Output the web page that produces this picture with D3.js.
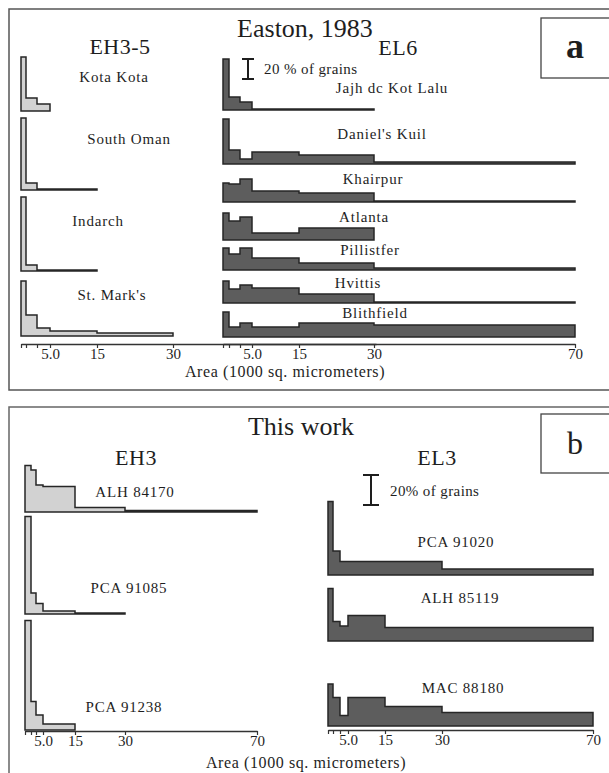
<!DOCTYPE html>
<html>
<head>
<meta charset="utf-8">
<script src="https://cdn.jsdelivr.net/npm/d3@7"></script>
<style>
  body { margin: 0; background: #fff; }
  svg { display: block; }
  text { font-family: "Liberation Serif", "Times New Roman", serif; fill: #1e1e1e; }
</style>
</head>
<body>
<script>
// bin edges (1000 sq. micrometers) and axis labels
var binEdges = [0, 1, 2.5, 5, 15, 30, 70];
var tickLabels = ["", "", "", "5.0", "15", "30", "70"];

// panel a, Easton 1983 -- % of grains per bin
var eh35Names = ["Kota Kota", "South Oman", "Indarch", "St. Mark's"];
var eh35Values = [[54, 13, 7], [72, 7, 1, 1], [74, 6, 1, 1], [55, 21, 8, 5, 3]];

var el6Names = ["Jajh dc Kot Lalu", "Daniel's Kuil", "Khairpur", "Atlanta", "Pillistfer", "Hvittis", "Blithfield"];
var el6Values = [[51, 13, 8, 1, 1], [45, 14, 5, 12, 9, 2], [19, 18, 23, 11, 9, 1], [27, 19, 23, 7, 12],
                 [22, 16, 22, 12, 7, 2], [22, 14, 18, 15, 9, 1], [25, 10, 14, 10, 14, 12]];

// panel b, this work
var eh3Names = ["ALH 84170", "PCA 91085", "PCA 91238"];
var eh3Values = [[31, 28, 18, 17, 3, 1], [65, 14, 7, 2, 0.7], [73, 19, 10, 4]];

var el3Names = ["PCA 91020", "ALH 85119", "MAC 88180"];
var el3Values = [[49, 16, 9, 9, 9, 4], [35, 13, 10, 17, 9, 9], [28, 19, 7, 19, 13, 9]];

var W = 609, H = 773;
var svg = d3.select("body").append("svg").attr("width", W).attr("height", H);

// frames
svg.append("rect").attr("x", 9).attr("y", 9).attr("width", 620).attr("height", 381)
   .attr("fill", "none").attr("stroke", "#555").attr("stroke-width", 1.5);
svg.append("rect").attr("x", 9).attr("y", 407).attr("width", 620).attr("height", 400)
   .attr("fill", "none").attr("stroke", "#666").attr("stroke-width", 1.5);

function panelLetter(y, h, letter, size, weight) {
	svg.append("rect").attr("x", 541).attr("y", y).attr("width", 80).attr("height", h)
	   .attr("fill", "#fff").attr("stroke", "#444").attr("stroke-width", 1.3);
	svg.append("text").attr("x", 575).attr("y", y + h * 0.67).attr("text-anchor", "middle")
	   .attr("font-size", size).attr("font-weight", weight).text(letter);
}
panelLetter(18, 60, "a", 36, "bold");
panelLetter(414, 59, "b", 32, "normal");

function label(x, y, size, str, anchor, spacing) {
	svg.append("text").attr("x", x).attr("y", y).attr("font-size", size)
	   .attr("letter-spacing", spacing || 0)
	   .attr("text-anchor", anchor || "middle").text(str);
}

// titles
label(305, 37, 26, "Easton, 1983");
label(120, 54, 22, "EH3-5", "middle", 0.5);
label(398, 55, 22, "EL6", "middle", 0.5);
label(301, 435, 26, "This work");
label(136, 465, 22, "EH3", "middle", 0.5);
label(437, 465, 22, "EL3", "middle", 0.5);

function drawHist(x, y, base, vals, fill) {
	var pts = [[x(binEdges[0]), base]];
	vals.forEach(function (v, i) {
		pts.push([x(binEdges[i]), base - y(v)]);
		pts.push([x(binEdges[i + 1]), base - y(v)]);
	});
	pts.push([x(binEdges[vals.length]), base]);
	svg.append("path")
	   .attr("d", d3.line()(pts) + "Z")
	   .attr("fill", fill)
	   .attr("stroke", "#262626")
	   .attr("stroke-width", 1.5)
	   .attr("stroke-linejoin", "miter");
}

function drawAxis(x, yPos, nEdges) {
	var ax = d3.axisBottom(x)
		.tickValues(binEdges.slice(0, nEdges))
		.tickFormat(function (d, i) { return tickLabels[i]; })
		.tickSize(4).tickSizeOuter(0);
	var g = svg.append("g").attr("transform", "translate(0," + yPos + ")").call(ax);
	g.select(".domain").attr("stroke", "#333").attr("stroke-width", 1.5);
	g.selectAll(".tick line").attr("stroke", "#333").attr("stroke-width", 1.2);
	g.selectAll(".tick text").attr("font-family", "Liberation Serif, serif")
	 .attr("font-size", 15).attr("fill", "#1e1e1e").attr("y", 4);
}

function scaleBar(cx, top, len, halfW, str, tx, ty) {
	svg.append("path")
	   .attr("d", "M" + (cx - halfW) + "," + top + "H" + (cx + halfW) +
	              "M" + cx + "," + top + "V" + (top + len) +
	              "M" + (cx - halfW) + "," + (top + len) + "H" + (cx + halfW))
	   .attr("stroke", "#1e1e1e").attr("stroke-width", 2).attr("fill", "none");
	label(tx, ty, 15, str, "start", 0.4);
}

// ---------- panel a ----------
var yA = d3.scaleLinear().domain([0, 20]).range([0, 20]);
var xAL = d3.scaleLinear().domain(binEdges).range([21, 26, 37, 50, 97, 173, 376]);
var xAR = d3.scaleLinear().domain(binEdges).range([223, 229, 240, 252, 299, 374, 575]);

var ehABase = [111, 190, 271, 336];
var ehALab = [[114, 82], [129, 144], [98, 226], [112, 300]];
eh35Values.forEach(function (v, i) {
	drawHist(xAL, yA, ehABase[i], v, "#d2d2d2");
	label(ehALab[i][0], ehALab[i][1], 15, eh35Names[i], "middle", 0.8);
});

var elABase = [110, 164, 202, 240, 270, 303, 337];
var elALab = [[392, 93], [382, 139], [373, 184], [364, 222], [370, 255], [358, 288], [375, 318]];
el6Values.forEach(function (v, i) {
	drawHist(xAR, yA, elABase[i], v, "#5d5d5d");
	label(elALab[i][0], elALab[i][1], 15, el6Names[i], "middle", 0.8);
});

scaleBar(248, 59, yA(20), 6, "20 % of grains", 264, 74);

drawAxis(xAL, 344, 6);
drawAxis(xAR, 344, 7);
label(285, 377, 16, "Area (1000 sq. micrometers)", "middle", 0.6);

// ---------- panel b ----------
var yB = d3.scaleLinear().domain([0, 20]).range([0, 30]);
var xBL = d3.scaleLinear().domain(binEdges).range([25, 31, 36, 43, 75, 125, 257]);
var xBR = d3.scaleLinear().domain(binEdges).range([328, 333, 340, 348, 385, 442, 593]);

var ehBBase = [512, 614, 730];
var ehBLab = [[135, 497], [129, 593], [124, 712]];
eh3Values.forEach(function (v, i) {
	drawHist(xBL, yB, ehBBase[i], v, "#d2d2d2");
	label(ehBLab[i][0], ehBLab[i][1], 15, eh3Names[i], "middle", 0.8);
});

var elBBase = [575, 641, 726];
var elBLab = [[456, 547], [460, 603], [463, 693]];
el3Values.forEach(function (v, i) {
	drawHist(xBR, yB, elBBase[i], v, "#5d5d5d");
	label(elBLab[i][0], elBLab[i][1], 15, el3Names[i], "middle", 0.8);
});

scaleBar(371, 475, yB(20), 8, "20% of grains", 390, 496);

drawAxis(xBL, 731, 7);
drawAxis(xBR, 730, 7);
label(306, 768, 16, "Area (1000 sq. micrometers)", "middle", 0.6);
</script>
</body>
</html>
